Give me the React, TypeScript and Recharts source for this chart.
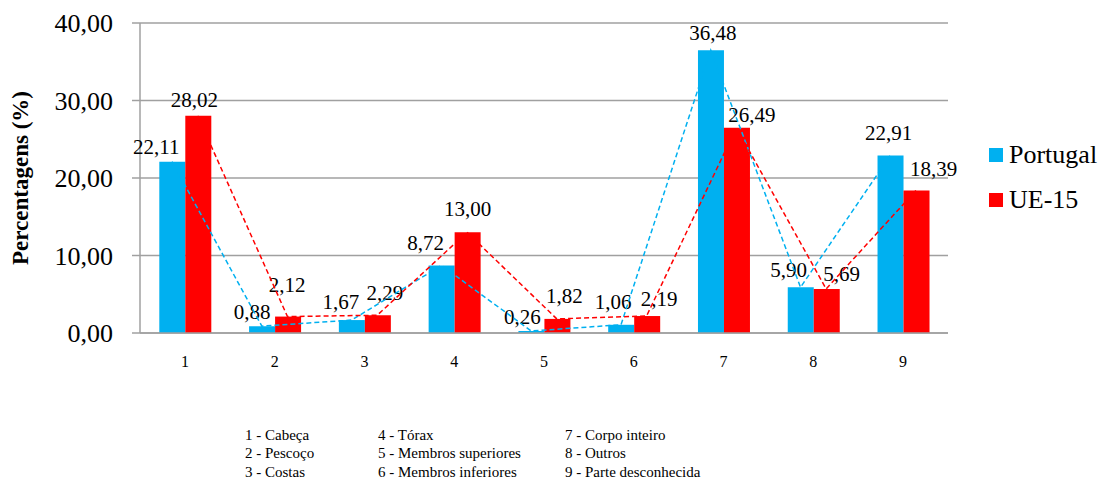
import React from 'react';
import {
  ComposedChart,
  Bar,
  Line,
  XAxis,
  YAxis,
  CartesianGrid,
  Legend,
  LabelList,
  Label,
} from 'recharts';

// Body-part categories (1..9) and the share of accidents per part, in %
const categories = ['1', '2', '3', '4', '5', '6', '7', '8', '9'];
const portugal = [22.11, 0.88, 1.67, 8.72, 0.26, 1.06, 36.48, 5.9, 22.91];
const ue15 = [28.02, 2.12, 2.29, 13.0, 1.82, 2.19, 26.49, 5.69, 18.39];
const yTicks = [0, 10, 20, 30, 40];
const seriesNames = ['Portugal', 'UE-15'];
const partNames = [
  '1 - Cabeça',
  '2 - Pescoço',
  '3 - Costas',
  '4 - Tórax',
  '5 - Membros superiores',
  '6 - Membros inferiores',
  '7 - Corpo inteiro',
  '8 - Outros',
  '9 - Parte desconhecida',
];

// Hand-placed nudges [dx, dy] for the value labels, relative to the bar top
const ptLabelNudge = [
  [-16, 3], [-10, 4], [-11, 0], [-16, -4], [-9, 4], [-8, -5], [2, 1], [-12, 1], [-2, -4],
];
const ueLabelNudge = [
  [-4, 2], [-1, -14], [7, -4], [0, -5], [7, -5], [12, 1], [15, 5], [15, 3], [17, -3],
];

const BLUE = '#00B0F0';
const RED = '#FF0000';
const GRAY = '#A0A0A0';
const FONT = '"Liberation Serif", "DejaVu Serif", Tinos, Times, serif';

const CAT_GAP = 0.215; // barCategoryGap as a fraction of the band
const barCenterShift = (1 - 2 * CAT_GAP) / 4; // bar centre offset from band centre, in bands
const n = categories.length;
// position of a bar centre on a 0..100 linear scale spanning the plot width
const barPos = (i: number, side: number) => ((i + 0.5 + side * barCenterShift) / n) * 100;

const rows = categories.map((cat, i) => ({
  cat,
  pt: portugal[i],
  ue: ue15[i],
  ptPos: barPos(i, -1),
  uePos: barPos(i, 1),
}));

const fmt = (v: number) => Number(v).toFixed(2).replace('.', ',');

const makeValueLabel = (nudge: number[][]) => (props: any) => {
  const vb = props.viewBox || {};
  const x = props.x ?? vb.x;
  const y = props.y ?? vb.y;
  const w = props.width ?? vb.width;
  const idx = props.index ?? 0;
  const [dx, dy] = nudge[idx] || [0, 0];
  return (
    <text
      x={x + w / 2 + dx}
      y={y - 18 + dy + 7}
      textAnchor="middle"
      fontSize={21}
      style={{ fontFamily: FONT }}
      fill="#000"
    >
      {fmt(props.value)}
    </text>
  );
};

const renderYLabel = (props: any) => {
  const vb = props.viewBox || {};
  const cx = vb.x + 28;
  const cy = vb.y + vb.height / 2;
  return (
    <text
      x={0}
      y={0}
      transform={`translate(${cx},${cy}) rotate(-90)`}
      textAnchor="middle"
      fontSize={23}
      fontWeight="bold"
      style={{ fontFamily: FONT }}
      fill="#000"
    >
      Percentagens (%)
    </text>
  );
};

const renderLegend = (props: any) => {
  const items = (props.payload || []).filter((p: any) => p.type !== 'none');
  return (
    <div style={{ fontFamily: FONT, fontSize: 26, color: '#000' }}>
      {items.map((p: any, i: number) => (
        <div
          key={i}
          style={{ display: 'flex', alignItems: 'center', height: 30, marginBottom: 15 }}
        >
          <span
            style={{ width: 14, height: 14, background: p.color, display: 'inline-block', marginRight: 6 }}
          />
          <span style={{ lineHeight: '30px' }}>{p.value}</span>
        </div>
      ))}
    </div>
  );
};

const tickFont = (size: number) => ({ fontSize: size, fill: '#000', style: { fontFamily: FONT } });

export default function App() {
  const cols = [partNames.slice(0, 3), partNames.slice(3, 6), partNames.slice(6, 9)];
  const colLeft = [245, 378, 565];
  return (
    <div
      style={{
        position: 'absolute',
        left: 0,
        top: 0,
        width: 1102,
        height: 486,
        background: '#fff',
        fontFamily: FONT,
      }}
    >
      <ComposedChart
        width={1102}
        height={486}
        data={rows}
        margin={{ top: 23, right: 154, bottom: 113, left: 0 }}
        barCategoryGap={`${CAT_GAP * 100}%`}
        barGap={0}
        style={{ fontFamily: FONT }}
      >
        <CartesianGrid xAxisId="cat" yAxisId="left" vertical={false} stroke={GRAY} strokeWidth={1.5} />
        <XAxis
          xAxisId="cat"
          dataKey="cat"
          height={40}
          axisLine={{ stroke: GRAY, strokeWidth: 1.5 }}
          tickLine={false}
          tickSize={0}
          tickMargin={23}
          tick={tickFont(16)}
        />
        <XAxis xAxisId="ptLine" type="number" dataKey="ptPos" domain={[0, 100]} allowDataOverflow hide />
        <XAxis xAxisId="ueLine" type="number" dataKey="uePos" domain={[0, 100]} allowDataOverflow hide />
        <YAxis
          yAxisId="left"
          width={140}
          domain={[0, 40]}
          ticks={yTicks}
          tickFormatter={fmt}
          axisLine={{ stroke: GRAY, strokeWidth: 1.5 }}
          tickLine={{ stroke: GRAY, strokeWidth: 1.5 }}
          tickSize={8}
          tickMargin={19}
          tick={tickFont(26)}
        >
          <Label content={renderYLabel} />
        </YAxis>
        <YAxis
          yAxisId="frame"
          orientation="right"
          width={0}
          domain={[0, 40]}
          tick={false}
          tickLine={false}
          axisLine={{ stroke: GRAY, strokeWidth: 1.5 }}
        />
        <Legend
          layout="horizontal"
          verticalAlign="middle"
          align="center"
          content={renderLegend}
          wrapperStyle={{ left: 989, top: 140, width: 113 }}
        />
        <Bar xAxisId="cat" yAxisId="left" dataKey="pt" name={seriesNames[0]} fill={BLUE} isAnimationActive={false}>
          <LabelList dataKey="pt" content={makeValueLabel(ptLabelNudge)} />
        </Bar>
        <Bar xAxisId="cat" yAxisId="left" dataKey="ue" name={seriesNames[1]} fill={RED} isAnimationActive={false}>
          <LabelList dataKey="ue" content={makeValueLabel(ueLabelNudge)} />
        </Bar>
        <Line
          xAxisId="ptLine"
          yAxisId="left"
          dataKey="pt"
          type="linear"
          stroke={BLUE}
          strokeWidth={1.5}
          strokeDasharray="5 3"
          dot={false}
          activeDot={false}
          legendType="none"
          isAnimationActive={false}
          zIndex={2100}
        />
        <Line
          xAxisId="ueLine"
          yAxisId="left"
          dataKey="ue"
          type="linear"
          stroke={RED}
          strokeWidth={1.5}
          strokeDasharray="5 3"
          dot={false}
          activeDot={false}
          legendType="none"
          isAnimationActive={false}
          zIndex={2100}
        />
      </ComposedChart>
      {cols.map((col, c) => (
        <div
          key={c}
          style={{
            position: 'absolute',
            left: colLeft[c],
            top: 425.5,
            fontFamily: FONT,
            fontSize: 15,
            lineHeight: '18.8px',
            color: '#000',
            whiteSpace: 'nowrap',
          }}
        >
          {col.map((t) => (
            <div key={t}>{t}</div>
          ))}
        </div>
      ))}
    </div>
  );
}
